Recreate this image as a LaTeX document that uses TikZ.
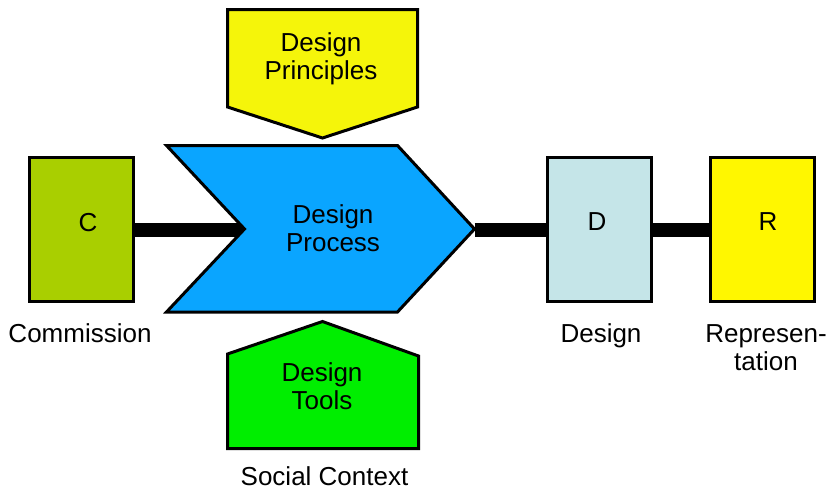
\documentclass[tikz,border=0pt]{standalone}
\usepackage{fontspec}
\setmainfont{Liberation Sans}
\usetikzlibrary{backgrounds}
\definecolor{cgreen}{HTML}{A9CF00}
\definecolor{pblue}{HTML}{0AA5FF}
\definecolor{pyellow}{HTML}{F5F50A}
\definecolor{ryellow}{HTML}{FFF700}
\definecolor{tgreen}{HTML}{00EE00}
\definecolor{dblue}{HTML}{C5E5E8}
\begin{document}
\begin{tikzpicture}[x=1pt,y=-1pt,
  font=\fontsize{26}{28}\selectfont,
  box/.style={draw, line width=3pt, minimum width=104pt, minimum height=144pt, inner sep=0pt},
  shapeline/.style={draw, line width=3pt, line join=miter},
  link/.style={line width=14pt},
  txt/.style={align=center, inner sep=0pt}]
\useasboundingbox (0,0) rectangle (832,490);

% boxes
\node[box, fill=cgreen] (C) at (81.5,229.5) {};
\node[box, fill=dblue] (D) at (599,229.5) {};
\node[box, fill=ryellow] (R) at (762,229.5) {};

% chevron
\path[shapeline, fill=pblue] (166.5,145.5) -- (397.5,145.5) -- (474.5,229) -- (397.5,312) -- (166.5,312) -- (244.5,229) -- cycle;
\coordinate (notch) at (244.5,229.5);
\coordinate (tip) at (474.5,229.5);

% principles (pointing down)
\path[shapeline, fill=pyellow] (227.5,9.5) -- (417.5,9.5) -- (417.5,107) -- (322.5,138) -- (227.5,107) -- cycle;

% tools (pointing up)
\path[shapeline, fill=tgreen] (322.5,321.5) -- (418.5,356) -- (418.5,448.5) -- (227.5,448.5) -- (227.5,354) -- cycle;

% connectors
\begin{scope}[on background layer]
\draw[link] (C.east) -- (notch);
\draw[link] (tip) -- (D.west);
\draw[link] (D.east) -- (R.west);
\end{scope}

% texts
\node[txt] (tC) at (88,222.5) {C};
\node[txt] (tD) at (597,222) {D};
\node[txt] (tR) at (768,222) {R};
\node[txt] (tProc) at (333,228) {Design\\Process};
\node[txt] (tPrin) at (321,59) {Design\\Principles};
\node[txt] (tTool) at (322,386) {Design\\Tools};
\node[txt, anchor=base] (lC) at (80,342) {Commission};
\node[txt, anchor=base] (lD) at (601,342) {Design};
\node[txt, anchor=north] (lR) at (766,324) {Represen-\\tation};
\node[txt, anchor=base] (lS) at (324.5,485) {Social Context};
\end{tikzpicture}
\end{document}
